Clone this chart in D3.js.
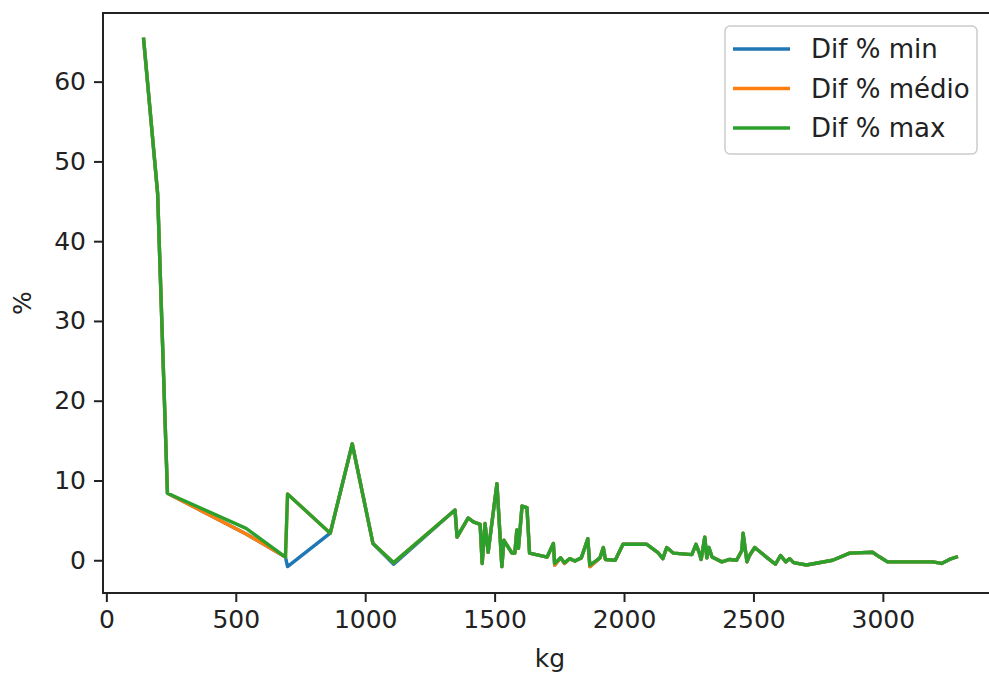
<!DOCTYPE html>
<html>
<head>
<meta charset="utf-8">
<script src="https://cdn.jsdelivr.net/npm/d3@7"></script>
<style>
  body { margin: 0; background: #fff; }
  text { font-family: "DejaVu Sans", sans-serif; fill: #222; }
</style>
</head>
<body>
<div id="chart"></div>
<script>
// kg values shared by the three series
var kg = [144, 198, 236, 540, 692, 700, 865, 950, 1030, 1110,
          1347, 1355, 1398, 1418, 1444, 1452, 1463, 1475, 1509, 1528,
          1536, 1567, 1578, 1586, 1592, 1606, 1625, 1635, 1703, 1727,
          1732, 1755, 1770, 1790, 1810, 1835, 1860, 1868, 1907, 1920,
          1928, 1966, 1996, 2088, 2130, 2150, 2165, 2190, 2262, 2278,
          2290, 2298, 2312, 2320, 2328, 2340, 2378, 2408, 2435, 2455,
          2460, 2475, 2485, 2505, 2550, 2585, 2605, 2625, 2640, 2655,
          2705, 2806, 2872, 2960, 2988, 3018, 3193, 3227, 3257, 3284];

var difMin = [65.3, 46.0, 8.4, 3.3, 0.4, -0.8, 3.4, 14.6, 2.1, -0.5,
              6.3, 2.9, 5.3, 4.8, 4.5, -0.4, 4.6, 1.0, 9.6, -0.8,
              2.5, 0.9, 0.9, 3.8, 1.5, 6.8, 6.6, 0.9, 0.4, 2.1,
              -0.6, 0.3, -0.4, 0.2, -0.1, 0.3, 2.7, -0.8, 0.3, 1.6,
              0.1, 0.0, 2.0, 2.0, 1.0, 0.2, 1.6, 0.9, 0.7, 2.0,
              1.0, 0.1, 2.9, 0.3, 1.6, 0.4, -0.2, 0.1, 0.0, 1.2,
              3.4, -0.2, 0.6, 1.6, 0.4, -0.5, 0.6, -0.2, 0.2, -0.3,
              -0.6, 0.0, 0.9, 1.0, 0.4, -0.2, -0.2, -0.4, 0.1, 0.4];

var difMedio = [65.3, 46.0, 8.4, 3.3, 0.4, 8.3, 3.4, 14.6, 2.1, -0.3,
                6.3, 2.9, 5.3, 4.8, 4.5, -0.4, 4.6, 1.0, 9.6, -0.8,
                2.5, 0.9, 0.9, 3.8, 1.5, 6.8, 6.6, 0.9, 0.4, 2.1,
                -0.6, 0.3, -0.4, 0.2, -0.1, 0.3, 2.7, -0.8, 0.3, 1.6,
                0.1, 0.0, 2.0, 2.0, 1.0, 0.2, 1.6, 0.9, 0.7, 2.0,
                1.0, 0.1, 2.9, 0.3, 1.6, 0.4, -0.2, 0.1, 0.0, 1.2,
                3.4, -0.2, 0.6, 1.6, 0.4, -0.5, 0.6, -0.2, 0.2, -0.3,
                -0.6, 0.0, 0.9, 1.0, 0.4, -0.2, -0.2, -0.4, 0.1, 0.4];

var difMax = [65.3, 46.0, 8.4, 4.0, 0.4, 8.3, 3.4, 14.6, 2.1, -0.3,
              6.3, 2.9, 5.3, 4.8, 4.5, -0.4, 4.6, 1.0, 9.6, -0.8,
              2.5, 0.9, 0.9, 3.8, 1.5, 6.8, 6.6, 0.9, 0.4, 2.1,
              -0.4, 0.3, -0.3, 0.2, -0.1, 0.3, 2.7, -0.6, 0.3, 1.6,
              0.1, 0.0, 2.0, 2.0, 1.0, 0.2, 1.6, 0.9, 0.7, 2.0,
              1.0, 0.1, 2.9, 0.3, 1.6, 0.4, -0.2, 0.1, 0.0, 1.2,
              3.4, -0.2, 0.6, 1.6, 0.4, -0.5, 0.6, -0.2, 0.2, -0.3,
              -0.6, 0.0, 0.9, 1.0, 0.4, -0.2, -0.2, -0.4, 0.1, 0.4];

var seriesNames = ["Dif % min", "Dif % médio", "Dif % max"];
var seriesColors = ["#1f77b4", "#ff7f0e", "#2ca02c"];
var xTicks = [0, 500, 1000, 1500, 2000, 2500, 3000];
var yTicks = [0, 10, 20, 30, 40, 50, 60];

var width = 989, height = 675;
var plot = {left: 103, right: 997, top: 13, bottom: 593};

var svg = d3.select("#chart").append("svg")
            .attr("width", width)
            .attr("height", height);

var series = [difMin, difMedio, difMax].map(function(vals, i) {
    return {name: seriesNames[i], color: seriesColors[i],
            points: kg.map(function(k, j) { return [k, vals[j]]; })};
});

// matplotlib style 5% margins
var xExt = d3.extent(kg);
var xPad = (xExt[1] - xExt[0]) * 0.05;
var allVals = difMin.concat(difMedio, difMax);
var yExt = d3.extent(allVals);
var yPad = (yExt[1] - yExt[0]) * 0.05;

var x = d3.scaleLinear()
          .domain([xExt[0] - xPad, xExt[1] + xPad])
          .range([plot.left, plot.right]);
var y = d3.scaleLinear()
          .domain([yExt[0] - yPad, yExt[1] + yPad])
          .range([plot.bottom, plot.top]);

var line = d3.line()
             .x(function(d) { return x(d[0]); })
             .y(function(d) { return y(d[1]); });

svg.append("g")
    .selectAll("path")
    .data(series)
    .enter().append("path")
        .attr("d", function(d) { return line(d.points); })
        .attr("fill", "none")
        .attr("stroke", function(d) { return d.color; })
        .attr("stroke-width", 3.4)
        .attr("stroke-linejoin", "round")
        .attr("stroke-linecap", "square");

// X axis
var xAxis = svg.append("g")
    .attr("transform", "translate(0," + plot.bottom + ")")
    .call(d3.axisBottom(x).tickValues(xTicks).tickFormat(d3.format("d"))
            .tickSize(9).tickPadding(8).tickSizeOuter(0));
xAxis.select(".domain").remove();
xAxis.selectAll("line").attr("stroke", "#222").attr("stroke-width", 2);
xAxis.selectAll("text").attr("font-size", 25).attr("fill", "#222")
     .attr("font-family", "DejaVu Sans, sans-serif");

// Y axis
var yAxis = svg.append("g")
    .attr("transform", "translate(" + plot.left + ",0)")
    .call(d3.axisLeft(y).tickValues(yTicks).tickFormat(d3.format("d"))
            .tickSize(9).tickPadding(8).tickSizeOuter(0));
yAxis.select(".domain").remove();
yAxis.selectAll("line").attr("stroke", "#222").attr("stroke-width", 2);
yAxis.selectAll("text").attr("font-size", 25).attr("fill", "#222")
     .attr("font-family", "DejaVu Sans, sans-serif");

// frame (right side falls outside the picture)
svg.append("rect")
    .attr("x", plot.left)
    .attr("y", plot.top)
    .attr("width", plot.right - plot.left)
    .attr("height", plot.bottom - plot.top)
    .attr("fill", "none")
    .attr("stroke", "#222")
    .attr("stroke-width", 2);

// axis labels
svg.append("text")
    .attr("x", (plot.left + plot.right) / 2)
    .attr("y", 667)
    .attr("text-anchor", "middle")
    .attr("font-size", 25)
    .text("kg");

svg.append("text")
    .attr("transform", "translate(31," + ((plot.top + plot.bottom) / 2) + ") rotate(-90)")
    .attr("text-anchor", "middle")
    .attr("font-size", 25)
    .text("%");

// legend
var legend = svg.append("g");
legend.append("rect")
    .attr("x", 725).attr("y", 26)
    .attr("width", 252).attr("height", 128)
    .attr("rx", 5)
    .attr("fill", "#fff").attr("fill-opacity", 0.8)
    .attr("stroke", "#ccc").attr("stroke-width", 1.5);

legend.selectAll("line")
    .data(series)
    .enter().append("line")
        .attr("x1", 733).attr("x2", 790)
        .attr("y1", function(d, i) { return 49 + i * 39.5; })
        .attr("y2", function(d, i) { return 49 + i * 39.5; })
        .attr("stroke", function(d) { return d.color; })
        .attr("stroke-width", 3.4);

legend.selectAll("text")
    .data(series)
    .enter().append("text")
        .attr("x", 811)
        .attr("y", function(d, i) { return 49 + i * 39.5; })
        .attr("dy", "0.36em")
        .attr("font-size", 26)
        .text(function(d) { return d.name; });
</script>
</body>
</html>
